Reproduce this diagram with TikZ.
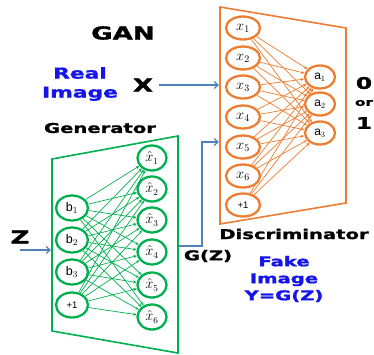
\documentclass[tikz,border=0pt]{standalone}
\usepackage{amsmath}
\usepackage{fontspec}
\usetikzlibrary{shapes, arrows.meta}
\newfontfamily\headfont{DejaVu Sans Bold}[FakeBold=1.2]
\newfontfamily\lblfont{Liberation Sans}
\newcommand{\wide}[1]{\scalebox{1.45}[1]{#1}}
\definecolor{dorange}{RGB}{237,125,49}
\definecolor{ggreen}{RGB}{0,176,80}
\definecolor{lblue}{RGB}{20,20,235}
\definecolor{fblue}{RGB}{79,129,189}

\begin{document}
\begin{tikzpicture}[x=1pt, y=-1pt,
    dnode/.style={ellipse, draw=dorange, line width=2.3pt, minimum width=34pt, minimum height=23pt, inner sep=0pt},
    anode/.style={ellipse, draw=dorange, line width=2.3pt, minimum width=30pt, minimum height=23pt, inner sep=0pt},
    gnode/.style={ellipse, draw=ggreen, line width=2.3pt, minimum width=32pt, minimum height=25pt, inner sep=0pt},
    hnode/.style={ellipse, draw=ggreen, line width=2.3pt, minimum width=29pt, minimum height=25pt, inner sep=0pt},
    dedge/.style={draw=dorange, line width=0.7pt, -{Stealth[length=3.5pt, width=3pt]}},
    gedge/.style={draw=ggreen, line width=0.7pt, -{Stealth[length=3.5pt, width=3pt]}},
    flow/.style={draw=fblue, line width=1.2pt, -{Straight Barb[length=4pt, width=7pt]}},
    headl/.style={font=\headfont\fontsize{18}{20}\selectfont, inner sep=0pt},
    subl/.style={font=\headfont\fontsize{13.5}{17}\selectfont, inner sep=0pt, align=center},
    bluel/.style={subl, text=lblue}]
    \useasboundingbox (0,0) rectangle (374,354);

    % discriminator
    \draw[dorange, line width=1.6pt] (220,7) -- (346,28) -- (346,203) -- (220,224) -- cycle;
    \foreach \i/\y in {1/28, 2/58, 3/87, 4/117, 5/147, 6/176}
        \node[dnode] (x\i) at (243,\y) {\fontsize{14}{15}\selectfont$x_{\i}$};
    \node[dnode] (x7) at (243,205) {\lblfont\fontsize{9.5}{10}\selectfont +1};
    \foreach \j/\y in {1/77, 2/104, 3/133}
        \node[anode] (a\j) at (320,\y) {\lblfont\fontsize{12}{13}\selectfont a$_{\j}$};
    \foreach \i in {1,...,7}
        \foreach \j in {1,2,3}
            \draw[dedge] (x\i) -- (a\j);

    % generator
    \draw[ggreen, line width=1.6pt] (52,159) -- (178,136) -- (178,353) -- (52,331) -- cycle;
    \foreach \i/\y in {1/208, 2/240, 3/272}
        \node[gnode] (b\i) at (72,\y) {\lblfont\fontsize{12.5}{13}\selectfont b$_{\i}$};
    \node[gnode] (b4) at (72,305) {\lblfont\fontsize{9.5}{10}\selectfont +1};
    \foreach \j/\y in {1/158, 2/189, 3/220, 4/252, 5/285, 6/317}
        \node[hnode] (h\j) at (152,\y) {\fontsize{13.5}{14}\selectfont$\hat{x}_{\j}$};
    \foreach \i in {1,...,4}
        \foreach \j in {1,...,6}
            \draw[gedge] (b\i) -- (h\j);

    % labels
    \node[headl] (gan) at (123,33) {\wide{GAN}};
    \node[bluel, font=\headfont\fontsize{15}{19}\selectfont] (real) at (80,84) {\wide{Real}\\\wide{Image}};
    \node[headl] (xlab) at (143,85) {\wide{X}};
    \node[subl] (gen) at (100,128) {\wide{Generator}};
    \node[headl] (zlab) at (20,237) {\wide{Z}};
    \node[subl] (gz) at (208,256) {\wide{G(Z)}};
    \node[subl, font=\headfont\fontsize{13.5}{15}\selectfont] (disc) at (294,234) {\wide{Discriminator}};
    \node[bluel] (fake) at (284,279) {\wide{Fake}\\\wide{Image}\\\wide{Y=G(Z)}};
    \node[headl, font=\headfont\fontsize{16}{17}\selectfont] (zero) at (364,83) {\wide{0}};
    \node[headl, font=\headfont\fontsize{10.5}{12}\selectfont] (orlab) at (364,103) {\wide{or}};
    \node[headl, font=\headfont\fontsize{16}{17}\selectfont] (one) at (364,123) {\wide{1}};

    % connectors
    \coordinate (xin) at (219,85);
    \coordinate (zin) at (20,250);
    \coordinate (gin) at (51,250);
    \coordinate (gout) at (179,246);
    \coordinate (din) at (219,142);
    \draw[flow] (xlab.east) ++(6,0) -- (xin);
    \draw[flow] (zin) -- (gin);
    \draw[flow] (gout) -- ++(23,0) |- (din);
\end{tikzpicture}
\end{document}
